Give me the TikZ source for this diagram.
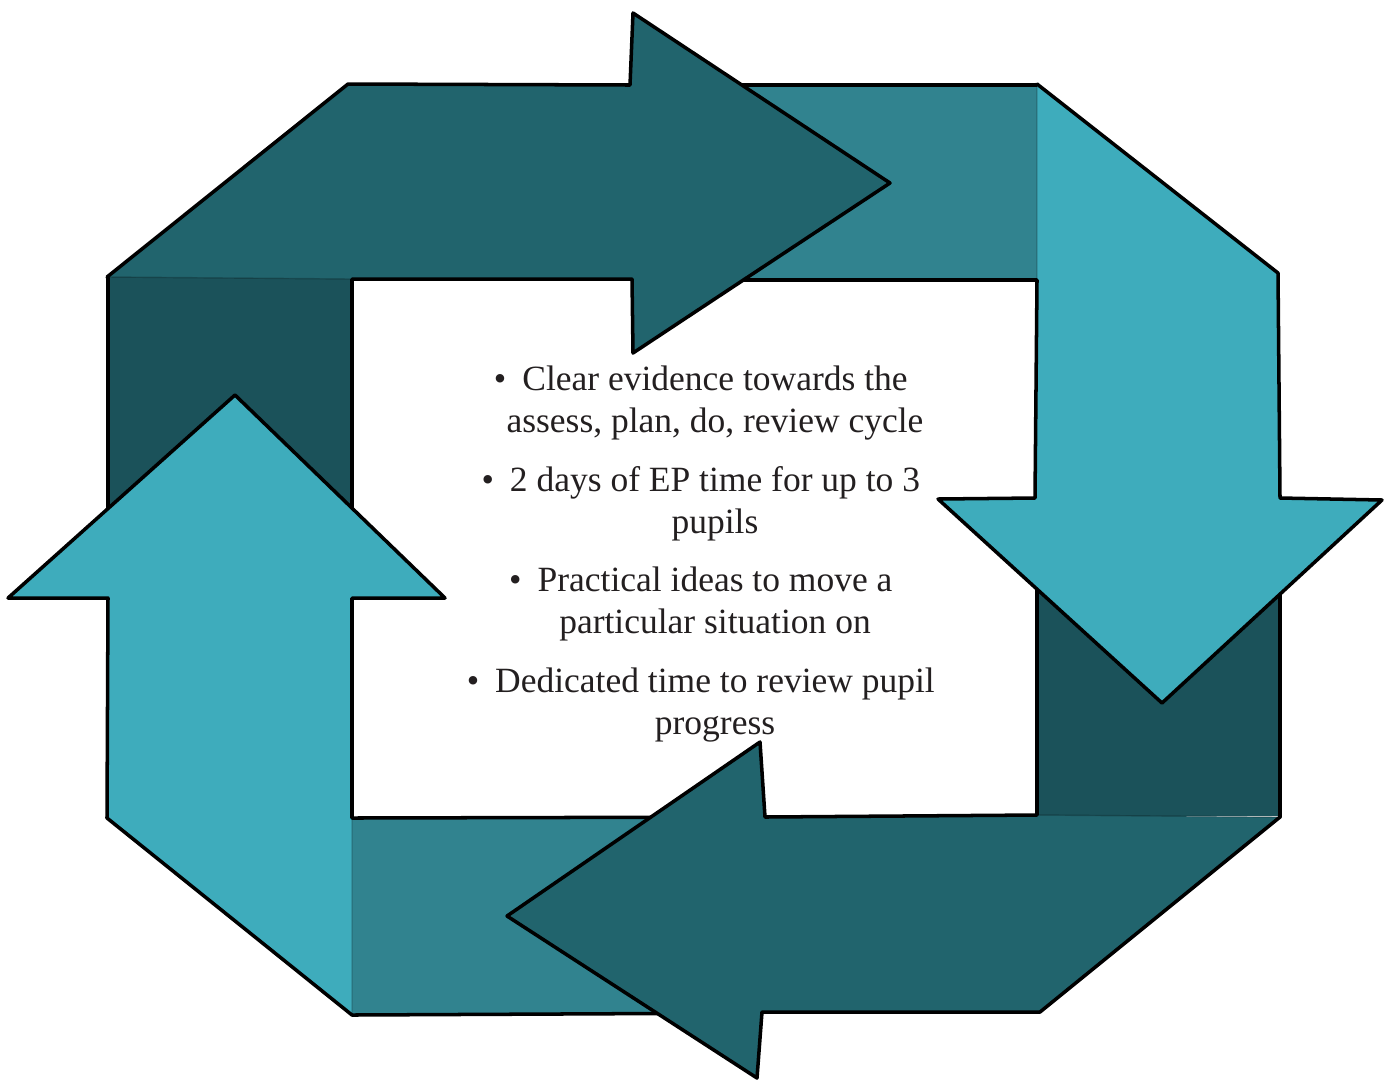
\documentclass[tikz,border=0pt]{standalone}
\usepackage{fontspec}
\setmainfont{Liberation Serif}
\usepackage{xcolor}
\usepackage{tikz}
\definecolor{arrowDark}{HTML}{21646D}
\definecolor{arrowLight}{HTML}{3EACBC}
\definecolor{bandMid}{HTML}{31838F}
\definecolor{bandDark}{HTML}{1B525A}
\definecolor{inkT}{HTML}{231F20}
\newcommand{\itembullet}{\llap{\textbullet\hspace{0.45em}}}
\tikzset{
  outline/.style={line width=2pt, line join=round, line cap=round, color=black},
  seam/.style={line width=0.8pt, color=black, opacity=0.22},
  itemtxt/.style={font=\fontsize{20.2}{24.2}\selectfont, text=inkT,
                  align=center, inner sep=0pt},
}
\begin{document}
\begin{tikzpicture}[x=0.02cm, y=-0.02cm]
  \useasboundingbox (0,0) rectangle (1392,1080);
  % bands that sit behind the arrow heads
  \fill[bandDark] (108,277) rectangle (352,598);
  \draw[outline] (108,277) -- (108,598) (352,279) -- (352,598);
  \fill[bandMid] (632,85) rectangle (1037,280);
  \draw[outline] (632,85) -- (1037,85) (632,280) -- (1037,280);
  \fill[bandDark] (1037,498) rectangle (1280,816);
  \draw[outline] (1037,498) -- (1037,815) (1280,498) -- (1280,817);
  \fill[bandMid] (352,818) rectangle (765,1014);
  \draw[outline] (352,818) -- (765,817) (352,1015) -- (762,1013);
  % top arrow
  \fill[arrowDark] (107,277) -- (348,84) -- (630,85) -- (633,13) -- (890,183)
    -- (633,353) -- (632,279) -- (352,279) -- cycle;
  \draw[outline] (107,277) -- (348,84) -- (630,85) -- (633,13) -- (890,183)
    -- (633,353) -- (632,279) -- (352,279);
  % right arrow
  \fill[arrowLight] (1037,84) -- (1278,273) -- (1280,498) -- (1382,500)
    -- (1162,703) -- (938,499) -- (1035,498) -- (1037,280) -- cycle;
  \draw[outline] (1037,84) -- (1278,273) -- (1280,498) -- (1382,500)
    -- (1162,703) -- (938,499) -- (1035,498) -- (1037,280);
  % bottom arrow
  \fill[arrowDark] (1280,817) -- (1040,1012) -- (762,1012) -- (757,1078)
    -- (507,916) -- (760,742) -- (765,817) -- (1037,815) -- cycle;
  \draw[outline] (1280,817) -- (1040,1012) -- (762,1012) -- (757,1078)
    -- (507,916) -- (760,742) -- (765,817) -- (1037,815);
  % left arrow
  \fill[arrowLight] (352,1015) -- (107,818) -- (108,598) -- (8,598)
    -- (235,395) -- (445,598) -- (352,598) -- (352,818) -- cycle;
  \draw[outline] (352,1015) -- (107,818) -- (108,598) -- (8,598)
    -- (235,395) -- (445,598) -- (352,598) -- (352,818);
  % faint joins between band and arrow
  \draw[seam] (108,277) -- (352,279) (1037,85) -- (1037,280)
    (1037,815) -- (1280,817) (352,818) -- (352,1015);
  % list in the middle
  \node[itemtxt] (evidence) at (715,403)
    {\itembullet Clear evidence towards the\\ assess, plan, do, review cycle};
  \node[itemtxt] (eptime) at (715,504)
    {\itembullet 2 days of EP time for up to 3\\ pupils};
  \node[itemtxt] (ideas) at (715,604)
    {\itembullet Practical ideas to move a\\ particular situation on};
  \node[itemtxt] (review) at (715,705)
    {\itembullet Dedicated time to review pupil\\ progress};
\end{tikzpicture}
\end{document}
